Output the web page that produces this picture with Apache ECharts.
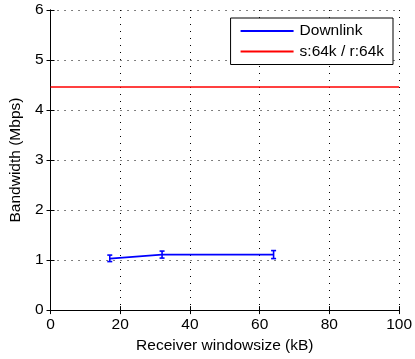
<!DOCTYPE html>
<html>
<head>
<meta charset="utf-8">
<script src="https://cdn.jsdelivr.net/npm/echarts@6/dist/echarts.min.js"></script>
<style>
  html, body { margin: 0; padding: 0; background: #fff; }
  #chart { width: 415px; height: 359px; }
</style>
</head>
<body>
<div id="chart"></div>
<script>
// receiver window sizes (kB) and measured downlink bandwidth
const windowSizes = [17, 32, 64];
const downlink = [1.03, 1.11, 1.11];
const errLow = [0.97, 1.04, 1.03];
const errHigh = [1.10, 1.18, 1.19];
// reference line s:64k / r:64k
const refX = [0, 100];
const refY = [4.46, 4.46];
const xTicks = [0, 20, 40, 60, 80, 100];
const yTicks = [0, 1, 2, 3, 4, 5, 6];

var myChart = echarts.init(document.getElementById("chart"));
const font = "Liberation Sans, Arial, sans-serif";
const fs = 15.5;

const gridLine = {
  show: true,
  lineStyle: { color: "#000", type: [1, 6], width: 1 },
};

var option = {
  animation: false,
  backgroundColor: "#fff",
  grid: { left: 50, right: 13, top: 10, bottom: 46 },
  legend: {
    right: 22,
    top: 18,
    orient: "vertical",
    itemWidth: 53,
    itemHeight: 2,
    itemGap: 4.5,
    padding: [5, 9, 5, 10],
    borderColor: "#000",
    borderWidth: 1,
    backgroundColor: "#fff",
    icon: "rect",
    textStyle: { fontFamily: font, fontSize: fs, color: "#000", padding: [0, 0, 0, 1] },
    data: ["Downlink", "s:64k / r:64k"],
  },
  xAxis: [
    {
      type: "value",
      min: 0,
      max: 100,
      interval: 20,
      name: "Receiver windowsize (kB)",
      nameLocation: "middle",
      nameGap: 27,
      nameTextStyle: { fontFamily: font, fontSize: fs, color: "#000" },
      axisLine: { lineStyle: { color: "#000", width: 1 } },
      axisTick: { inside: true, length: 4, lineStyle: { color: "#000" } },
      axisLabel: {
        fontFamily: font, fontSize: fs, color: "#000", margin: 7,
        formatter: (v) => (xTicks.includes(v) ? String(v) : ""),
      },
      splitLine: gridLine,
    },
    {
      type: "value",
      position: "top",
      min: 0,
      max: 100,
      interval: 20,
      axisLine: { lineStyle: { color: "#000", width: 1 } },
      axisTick: { inside: true, length: 4, lineStyle: { color: "#000" } },
      axisLabel: { show: false },
      splitLine: { show: false },
    },
  ],
  yAxis: [
    {
      type: "value",
      min: 0,
      max: 6,
      interval: 1,
      name: "Bandwidth (Mbps)",
      nameLocation: "middle",
      nameGap: 22,
      nameTextStyle: { fontFamily: font, fontSize: fs, color: "#000" },
      axisLine: { show: true, lineStyle: { color: "#000", width: 1 } },
      axisTick: { show: true, inside: true, length: 4, lineStyle: { color: "#000" } },
      axisLabel: {
        fontFamily: font, fontSize: fs, color: "#000", margin: 7,
        formatter: (v) => (yTicks.includes(v) ? String(v) : ""),
      },
      splitLine: gridLine,
    },
    {
      type: "value",
      position: "right",
      min: 0,
      max: 6,
      interval: 1,
      axisLine: { show: true, lineStyle: { color: "#000", width: 1 } },
      axisTick: { show: true, inside: true, length: 4, lineStyle: { color: "#000" } },
      axisLabel: { show: false },
      splitLine: { show: false },
    },
  ],
  series: [
    {
      name: "Downlink",
      type: "line",
      data: windowSizes.map((x, i) => [x, downlink[i]]),
      symbol: "none",
      lineStyle: { color: "#0000ff", width: 1.6 },
      itemStyle: { color: "#0000ff" },
      z: 3,
    },
    {
      name: "Downlink",
      type: "custom",
      data: windowSizes.map((x, i) => [x, errLow[i], errHigh[i]]),
      encode: { x: 0, y: [1, 2] },
      renderItem: function (params, api) {
        const lo = api.coord([api.value(0), api.value(1)]);
        const hi = api.coord([api.value(0), api.value(2)]);
        const w = 2.5;
        const style = { stroke: "#0000ff", lineWidth: 1.6 };
        return {
          type: "group",
          children: [
            { type: "line", shape: { x1: lo[0], y1: lo[1], x2: hi[0], y2: hi[1] }, style: style },
            { type: "line", shape: { x1: lo[0] - w, y1: lo[1], x2: lo[0] + w, y2: lo[1] }, style: style },
            { type: "line", shape: { x1: hi[0] - w, y1: hi[1], x2: hi[0] + w, y2: hi[1] }, style: style },
          ],
        };
      },
      z: 4,
    },
    {
      name: "s:64k / r:64k",
      type: "line",
      data: refX.map((x, i) => [x, refY[i]]),
      symbol: "none",
      lineStyle: { color: "#ff0000", width: 1.6 },
      itemStyle: { color: "#ff0000" },
      z: 3,
    },
  ],
};
myChart.setOption(option);
</script>
</body>
</html>
